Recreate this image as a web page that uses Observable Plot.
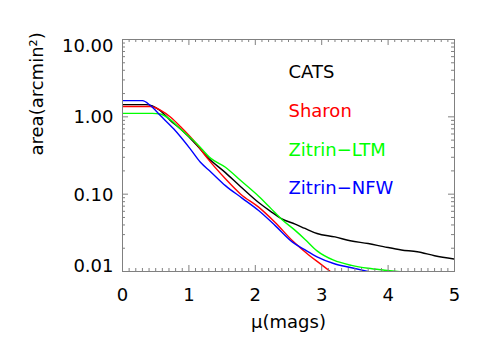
<!DOCTYPE html>
<html><head><meta charset="utf-8">
<script src="https://cdn.jsdelivr.net/npm/d3@7"></script>
<script src="https://cdn.jsdelivr.net/npm/@observablehq/plot@0.6"></script>
<style>body{margin:0;background:#fff}svg{display:block}</style>
</head><body><div id="chart"></div>
<script>
// ---- data ----
const seriesNames = ["CATS", "Sharon", "Zitrin−LTM", "Zitrin−NFW"];
const catsMu   = [0, 0.35, 0.45, 0.57, 0.72, 0.87, 1.12, 1.28, 1.55, 1.78, 2.05, 2.23, 2.4, 2.6, 2.75, 2.93, 3.2, 3.43, 3.7, 3.93, 4.2, 4.44, 4.7, 5.0];
const catsArea = [1.44, 1.44, 1.38, 1.2, 0.9, 0.70, 0.43, 0.30, 0.19, 0.125, 0.078, 0.060, 0.048, 0.041, 0.036, 0.031, 0.028, 0.025, 0.023, 0.021, 0.019, 0.018, 0.016, 0.0145];
const sharonMu   = [0, 0.42, 0.57, 0.73, 0.87, 1.12, 1.28, 1.55, 1.78, 2.05, 2.3, 2.56, 2.8, 3.0, 3.13];
const sharonArea = [1.36, 1.36, 1.22, 0.98, 0.75, 0.44, 0.29, 0.158, 0.100, 0.068, 0.043, 0.025, 0.0165, 0.0122, 0.0100];
const ltmMu   = [0, 0.45, 0.57, 0.72, 0.87, 1.12, 1.33, 1.55, 1.78, 2.05, 2.23, 2.4, 2.6, 2.75, 2.93, 3.18, 3.45, 3.7, 3.95, 4.2];
const ltmArea = [1.11, 1.11, 1.09, 0.92, 0.70, 0.45, 0.29, 0.223, 0.15, 0.094, 0.066, 0.047, 0.034, 0.026, 0.0185, 0.0140, 0.0120, 0.0110, 0.0104, 0.0099];
const nfwMu   = [0, 0.3, 0.42, 0.57, 0.77, 1.02, 1.17, 1.33, 1.55, 1.8, 2.05, 2.3, 2.56, 2.75, 2.93, 3.18, 3.45, 3.72];
const nfwArea = [1.62, 1.62, 1.40, 1.04, 0.70, 0.385, 0.26, 0.194, 0.129, 0.089, 0.0614, 0.0392, 0.024, 0.019, 0.0155, 0.0127, 0.0112, 0.0099];
const xTickValues = [0, 1, 2, 3, 4, 5];
const xTickLabels = ["0", "1", "2", "3", "4", "5"];
const yTickValues = [10, 1, 0.1, 0.01];
const yTickLabels = ["10.00", "1.00", "0.10", "0.01"];
const xTitle = "μ(mags)";
const yTitle = "area(arcmin²)";

// ---- layout / style ----
const W = 491, H = 350, mL = 122, mR = 37, mT = 39, mB = 79;
const plotW = W - mL - mR, plotH = H - mT - mB;
const colors = ["#000000", "#ff0000", "#00ff00", "#0000ff"];
const axisGray = "#808080";
const font = "DejaVu Sans";
const fs = 18;

const seriesMu = [catsMu, sharonMu, ltmMu, nfwMu];
const seriesArea = [catsArea, sharonArea, ltmArea, nfwArea];
const rows = seriesNames.flatMap((name, s) => seriesMu[s].map((m, i) => ({name, mu: m, area: seriesArea[s][i]})));

const xMinor = d3.range(0, 51).map(i => i / 10).filter(v => Math.abs(v - Math.round(v)) > 1e-9);
const yMinor = [0.01, 0.1, 1].flatMap(d => d3.range(2, 10).map(k => k * d));

const yLabelDy = [7, 0, 1, -5];
const legendDy = [33, 72, 111, 149];

const marks = [];
// curves
marks.push(Plot.line(rows, {x: "mu", y: "area", z: "name", stroke: "name", strokeWidth: 1.4, curve: "monotone-x", clip: true}));
// ticks (inward, all four sides)
const tk = (len) => [
  Plot.ruleX(len === 6 ? xTickValues : xMinor, {insetTop: plotH - len, stroke: axisGray}),
  Plot.ruleX(len === 6 ? xTickValues : xMinor, {insetBottom: plotH - len, stroke: axisGray}),
  Plot.ruleY(len === 6 ? yTickValues : yMinor, {insetRight: plotW - len, stroke: axisGray}),
  Plot.ruleY(len === 6 ? yTickValues : yMinor, {insetLeft: plotW - len, stroke: axisGray})
];
marks.push(...tk(6), ...tk(3));
marks.push(Plot.frame({stroke: axisGray}));
// y tick labels
yTickValues.forEach((v, i) => {
  marks.push(Plot.text([v], {y: d => d, text: () => yTickLabels[i], frameAnchor: "left", dx: -9, dy: yLabelDy[i], textAnchor: "end", lineAnchor: "middle", fontSize: fs, fill: "#000"}));
});
// x tick labels
marks.push(Plot.text(xTickValues, {x: d => d, text: (d, i) => xTickLabels[i], frameAnchor: "bottom", dy: 24, lineAnchor: "middle", fontSize: fs, fill: "#000"}));
// axis titles
marks.push(Plot.text([xTitle], {text: d => d, frameAnchor: "bottom", dy: 51, lineAnchor: "middle", fontSize: fs, fill: "#000"}));
marks.push(Plot.text([yTitle], {text: d => d, frameAnchor: "left", dx: -85, rotate: -90, lineAnchor: "middle", fontSize: fs, fill: "#000"}));
// legend
seriesNames.forEach((n, i) => {
  marks.push(Plot.text([n], {text: d => d, frameAnchor: "top-left", dx: 166, dy: legendDy[i], textAnchor: "start", lineAnchor: "middle", fontSize: fs, fill: colors[i]}));
});

const chart = Plot.plot({
  width: W, height: H,
  marginLeft: mL, marginRight: mR, marginTop: mT, marginBottom: mB,
  style: {fontFamily: font, background: "#fff"},
  x: {domain: [0, 5], axis: null},
  y: {type: "log", domain: [0.01, 10], axis: null},
  color: {domain: seriesNames, range: colors},
  marks
});
document.getElementById("chart").appendChild(chart);
</script>
</body></html>
